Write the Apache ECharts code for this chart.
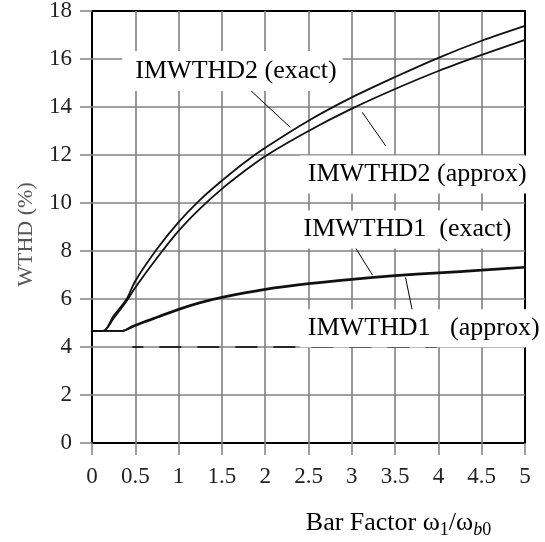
<!DOCTYPE html>
<html>
<head>
<meta charset="utf-8">
<title>WTHD vs Bar Factor</title>
<script src="https://cdn.jsdelivr.net/npm/echarts@6/dist/echarts.min.js"></script>
<style>
html, body { margin: 0; padding: 0; background: #fff; }
#chart { width: 545px; height: 542px; }
</style>
</head>
<body>
<div id="chart"></div>
<script>
// axis ticks
var xTicks = [0, 0.5, 1, 1.5, 2, 2.5, 3, 3.5, 4, 4.5, 5];
var yTicks = [0, 2, 4, 6, 8, 10, 12, 14, 16, 18];

// IMWTHD2 curves
var xImw2 = [0, 0.13, 0.25, 0.4, 0.5, 0.75, 1, 1.25, 1.5, 1.75, 2, 2.5, 3, 3.5, 4, 4.5, 5];
var imw2Exact = [4.67, 4.67, 5.3, 6.0, 6.75, 8.08, 9.2, 10.14, 10.93, 11.66, 12.3, 13.43, 14.4, 15.25, 16.05, 16.76, 17.38];
var imw2Approx = [4.67, 4.67, 5.2, 5.92, 6.48, 7.71, 8.84, 9.78, 10.59, 11.3, 11.95, 13.0, 13.93, 14.75, 15.5, 16.17, 16.8];

// IMWTHD1 curves
var xImw1 = [0, 0.35, 0.46, 0.6, 0.75, 1, 1.25, 1.5, 2, 2.5, 3, 3.5, 4, 4.5, 5];
var imw1Exact = [4.67, 4.67, 4.86, 5.06, 5.26, 5.59, 5.87, 6.09, 6.42, 6.66, 6.84, 6.99, 7.11, 7.22, 7.34];
var imw1Approx = [4.67, 4.67, 4.82, 5.02, 5.22, 5.55, 5.83, 6.05, 6.38, 6.62, 6.8, 6.95, 7.07, 7.18, 7.31];

// dashed reference line at 4 %
var baseX = [0.466, 3.98];
var baseY = [4, 4];

var serif = '"Liberation Serif", "Times New Roman", serif';

function zip(xs, ys) {
    var out = [];
    for (var i = 0; i < xs.length; i++) {
        out.push([xs[i], ys[i]]);
    }
    return out;
}

// text label with white box, anchored at its left edge
function note(text, at, pad) {
    return {
        coord: at,
        symbol: 'circle',
        symbolSize: 0,
        label: {
            show: true,
            position: 'right',
            distance: 0,
            formatter: text,
            color: '#000',
            fontFamily: serif,
            fontSize: 26,
            backgroundColor: '#fff',
            padding: pad
        }
    };
}

function leader(a, b) {
    return {
        symbol: ['none', 'none'],
        silent: true,
        label: { show: false },
        lineStyle: { color: '#000', width: 1, type: 'solid' },
        data: [[{ coord: a }, { coord: b }]]
    };
}

function curve(name, data, extra) {
    var s = {
        name: name,
        type: 'line',
        data: data,
        showSymbol: false,
        smooth: 0.3,
        lineStyle: { color: '#111', width: 1.8 },
        z: 3
    };
    for (var k in extra) s[k] = extra[k];
    return s;
}

var myChart = echarts.init(document.getElementById('chart'));

var option = {
    animation: false,
    backgroundColor: '#fff',
    grid: {
        left: 92, right: 20, top: 11, bottom: 99,
        show: true,
        borderColor: '#000',
        borderWidth: 2,
        outerBoundsMode: 'none'
    },
    xAxis: {
        type: 'value',
        min: xTicks[0],
        max: xTicks[xTicks.length - 1],
        interval: 0.5,
        name: 'Bar Factor ω{sub|1}/ω{subi|b}{sub|0}',
        nameLocation: 'middle',
        nameGap: 64,
        nameTextStyle: {
            color: '#000',
            fontFamily: serif,
            fontSize: 26,
            padding: [0, 0, 0, 180],
            rich: {
                sub: { fontFamily: serif, fontSize: 18, color: '#000', padding: [14, 0, 0, 0] },
                subi: { fontFamily: serif, fontSize: 18, color: '#000', fontStyle: 'italic', padding: [14, 0, 0, 0] }
            }
        },
        axisLine: { show: false },
        axisTick: { show: true, length: 12, lineStyle: { color: '#888', width: 1.6 } },
        axisLabel: { color: '#222', fontFamily: serif, fontSize: 23, margin: 22 },
        splitLine: { show: true, showMinLine: false, showMaxLine: false, lineStyle: { color: '#808080', width: 1.6 } }
    },
    yAxis: {
        type: 'value',
        min: yTicks[0],
        max: yTicks[yTicks.length - 1],
        interval: 2,
        name: 'WTHD (%)',
        nameLocation: 'middle',
        nameRotate: 90,
        nameGap: 55,
        nameTextStyle: { color: '#555', fontFamily: serif, fontSize: 22, padding: [0, 15, 0, 0] },
        axisLine: { show: false },
        axisTick: { show: true, length: 12, lineStyle: { color: '#888', width: 1.6 } },
        axisLabel: { color: '#222', fontFamily: serif, fontSize: 23, margin: 20 },
        splitLine: { show: true, showMinLine: false, showMaxLine: false, lineStyle: { color: '#808080', width: 1.6 } }
    },
    series: [
        curve('IMWTHD2 (exact)', zip(xImw2, imw2Exact), {
            markPoint: { silent: true, data: [note('IMWTHD2 (exact)', [0.35, 15.5], [7, 6, 7, 13])] },
            markLine: leader([1.71, 15.1], [2.29, 13.15])
        }),
        curve('IMWTHD2 (approx)', zip(xImw2, imw2Approx), {
            markPoint: { silent: true, data: [note('IMWTHD2 (approx)', [2.40, 11.19], [6, 4, 6, 8])] },
            markLine: leader([3.12, 13.78], [3.39, 12.39])
        }),
        curve('IMWTHD1 (exact)', zip(xImw1, imw1Exact), {
            markPoint: { silent: true, data: [note('IMWTHD1  (exact)', [2.35, 8.9], [6, 4, 6, 8])] },
            markLine: leader([3.01, 8.32], [3.24, 6.99])
        }),
        curve('IMWTHD1 (approx)', zip(xImw1, imw1Approx), {
            markPoint: { silent: true, data: [note('IMWTHD1   (approx)', [2.40, 4.78], [6, 4, 6, 8])] },
            markLine: leader([3.62, 6.9], [3.71, 5.32])
        }),
        {
            name: 'base',
            type: 'line',
            data: zip(baseX, baseY),
            showSymbol: false,
            lineStyle: { color: '#000', width: 1.6, type: [22, 16], dashOffset: 11 },
            z: 2
        }
    ]
};
myChart.setOption(option);
</script>
</body>
</html>
